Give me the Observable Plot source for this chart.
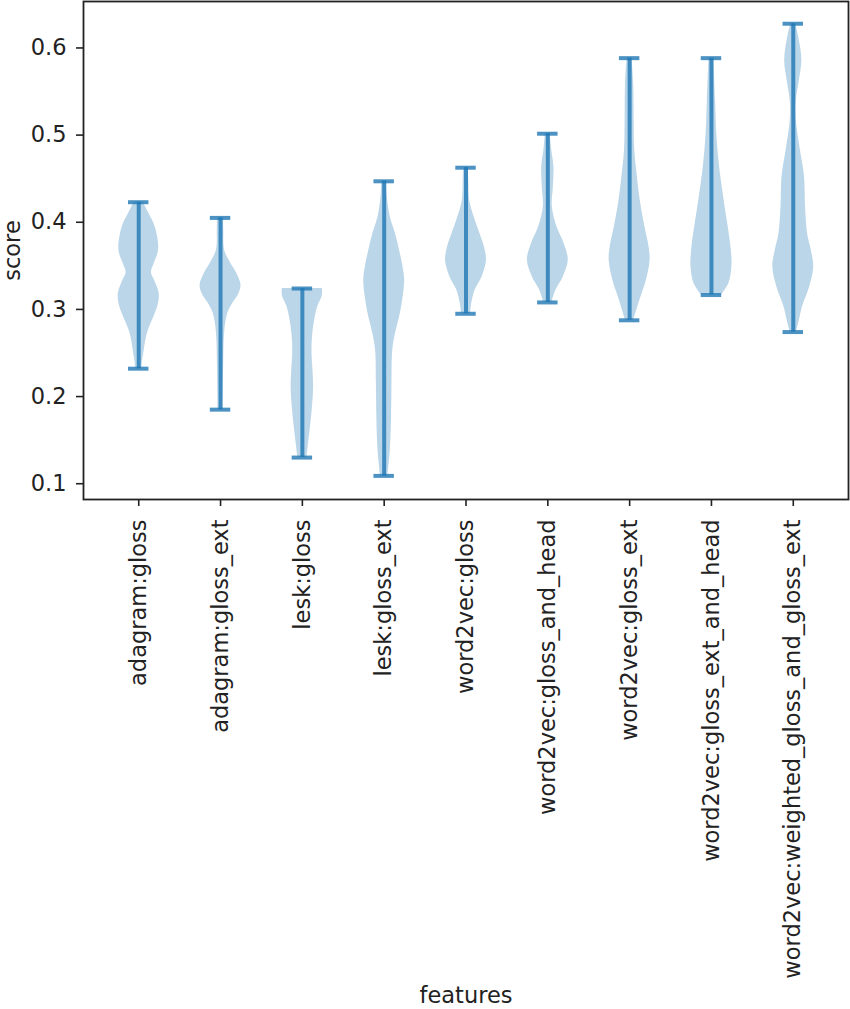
<!DOCTYPE html>
<html>
<head>
<meta charset="utf-8">
<script src="https://cdn.jsdelivr.net/npm/d3@7"></script>
<script src="https://cdn.jsdelivr.net/npm/@observablehq/plot@0.6"></script>
<style>
  html, body { margin: 0; padding: 0; background: white; }
  #chart svg { display: block; }
</style>
</head>
<body>
<div id="chart"></div>
<script>
// Categories (x positions 1..9)
const names = [
  "adagram:gloss",
  "adagram:gloss_ext",
  "lesk:gloss",
  "lesk:gloss_ext",
  "word2vec:gloss",
  "word2vec:gloss_and_head",
  "word2vec:gloss_ext",
  "word2vec:gloss_ext_and_head",
  "word2vec:weighted_gloss_and_gloss_ext"
];

// Extremes of each distribution (caps)
const mins = [0.232, 0.185, 0.130, 0.109, 0.295, 0.308, 0.2875, 0.3165, 0.274];
const maxs = [0.423, 0.405, 0.324, 0.447, 0.4626, 0.5016, 0.5883, 0.5883, 0.6278];

// Violin profiles: [score, relative half-width (1 = widest)]
const profiles = [
  [[0.232,0.15],[0.24,0.18],[0.25,0.25],[0.265,0.35],[0.278,0.5],[0.292,0.75],[0.305,0.95],[0.318,1.0],[0.332,0.8],[0.342,0.62],[0.352,0.75],[0.365,0.95],[0.375,0.97],[0.395,0.8],[0.41,0.5],[0.423,0.22]],
  [[0.185,0.12],[0.234,0.15],[0.273,0.2],[0.295,0.35],[0.307,0.6],[0.318,0.9],[0.328,1.0],[0.341,0.8],[0.353,0.5],[0.368,0.2],[0.39,0.16],[0.405,0.15]],
  [[0.130,0.22],[0.15,0.32],[0.17,0.42],[0.19,0.5],[0.21,0.55],[0.23,0.52],[0.25,0.47],[0.27,0.5],[0.29,0.62],[0.303,0.75],[0.315,0.97],[0.324,0.98]],
  [[0.109,0.18],[0.138,0.3],[0.177,0.36],[0.215,0.38],[0.253,0.42],[0.272,0.55],[0.291,0.75],[0.310,0.9],[0.333,1.0],[0.349,0.92],[0.368,0.75],[0.387,0.55],[0.406,0.3],[0.43,0.15],[0.447,0.12]],
  [[0.295,0.22],[0.3067,0.28],[0.3222,0.45],[0.337,0.78],[0.3563,1.0],[0.3716,0.9],[0.387,0.68],[0.406,0.4],[0.4251,0.18],[0.445,0.14],[0.4626,0.12]],
  [[0.308,0.2],[0.3222,0.4],[0.337,0.75],[0.3563,1.0],[0.3754,0.8],[0.3945,0.45],[0.4174,0.22],[0.44,0.27],[0.4633,0.3],[0.485,0.18],[0.5016,0.12]],
  [[0.2875,0.2],[0.3106,0.5],[0.3334,0.82],[0.3563,1.0],[0.3716,0.95],[0.3945,0.75],[0.4251,0.52],[0.4518,0.38],[0.4825,0.25],[0.5206,0.22],[0.559,0.2],[0.5883,0.12]],
  [[0.3165,0.5],[0.3296,0.85],[0.3487,1.0],[0.3678,0.97],[0.3945,0.82],[0.4251,0.62],[0.4633,0.4],[0.5016,0.26],[0.5398,0.2],[0.5883,0.12]],
  [[0.274,0.15],[0.2875,0.3],[0.3027,0.45],[0.3257,0.8],[0.3487,1.0],[0.3678,0.88],[0.3869,0.7],[0.4174,0.6],[0.4518,0.55],[0.4825,0.35],[0.5169,0.15],[0.5398,0.15],[0.5627,0.3],[0.5857,0.42],[0.6086,0.3],[0.6278,0.12]]
];

const yTicks = [0.1, 0.2, 0.3, 0.4, 0.5, 0.6];
const xLabel = "features";
const yLabel = "score";

// Tables built from the arrays above
const bodies = profiles.flatMap((prof, i) =>
  prof.map(([v, w]) => ({name: names[i], pos: i + 1, v, w})));
const stats = names.map((name, i) => ({name, pos: i + 1, min: mins[i], max: maxs[i]}));

const C0 = "#1f77b4";
const lineStyle = {stroke: C0, strokeWidth: 4, strokeOpacity: 0.8};

const chart = Plot.plot({
  width: 850,
  height: 1009,
  marginLeft: 83,
  marginRight: 2,
  marginTop: 1,
  marginBottom: 510,
  style: {fontFamily: "DejaVu Sans", fontSize: "22.5px", color: "#222", background: "white"},
  x: {domain: [0.325, 9.675]},
  y: {domain: [0.0819, 0.6533]},
  marks: [
    Plot.areaX(bodies, {
      y: "v",
      x1: d => d.pos - 0.25 * d.w,
      x2: d => d.pos + 0.25 * d.w,
      z: "name",
      fill: C0,
      fillOpacity: 0.3,
      curve: "catmull-rom"
    }),
    Plot.ruleX(stats, {x: "pos", y1: "min", y2: "max", ...lineStyle}),
    Plot.ruleY(stats, {y: "max", x1: d => d.pos - 0.125, x2: d => d.pos + 0.125, ...lineStyle}),
    Plot.ruleY(stats, {y: "min", x1: d => d.pos - 0.125, x2: d => d.pos + 0.125, ...lineStyle}),
    Plot.axisY({ticks: yTicks, tickFormat: d3.format(".1f"), tickSize: 7, tickPadding: 10, label: null, strokeWidth: 1.6}),
    Plot.axisX({ticks: names.map((_, i) => i + 1), tickFormat: i => names[i - 1], tickRotate: -90, tickSize: 7, tickPadding: 13, label: null, strokeWidth: 1.6}),
    Plot.frame({stroke: "#222", strokeWidth: 1.8}),
    Plot.text([yLabel], {text: d => d, frameAnchor: "left", dx: -71, rotate: -90, textAnchor: "middle", lineAnchor: "middle", fill: "#222"}),
    Plot.text([xLabel], {text: d => d, frameAnchor: "bottom", dy: 496, textAnchor: "middle", lineAnchor: "middle", fill: "#222"})
  ]
});

document.getElementById("chart").appendChild(chart);
</script>
</body>
</html>
